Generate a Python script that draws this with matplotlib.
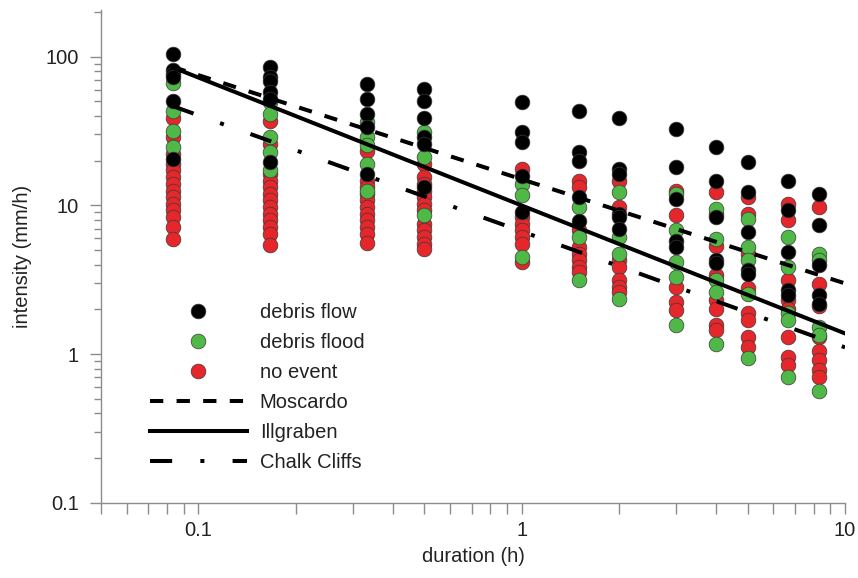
import numpy as np
import matplotlib
matplotlib.use("Agg")
import matplotlib.pyplot as plt
from matplotlib.lines import Line2D
from matplotlib.ticker import LogLocator, FixedLocator, NullFormatter

plt.rcParams['font.family'] = ['Liberation Sans', 'DejaVu Sans']

# durations (h) of the rainfall columns
durations = [0.0833, 0.1667, 0.3333, 0.5, 1, 1.5, 2, 3, 4, 5, 6.667, 8.333]

# debris flow intensities (mm/h) per duration column
flow_I = [
    [105, 81.5, 76.4, 72.6, 50.7, 20.6],
    [84.8, 72.6, 69, 57.6, 52, 19.5],
    [65.6, 52, 41.2, 33.6, 16.3],
    [60.7, 50.7, 39, 28.7, 25.9, 13.3],
    [49.4, 31, 26.6, 15.9, 9.0],
    [43.4, 22.8, 20.0, 11.4, 7.9],
    [39, 17.6, 16.3, 8.8, 8.4, 7.0],
    [32.7, 18.1, 11.1, 5.8, 5.25],
    [24.6, 14.7, 8.35, 4.28, 4.1],
    [19.5, 12.3, 6.6, 3.66, 3.47],
    [14.7, 9.25, 4.86, 2.69, 2.49],
    [12.0, 7.34, 3.96, 2.49, 2.19],
]

# debris flood intensities (mm/h)
flood_I = [
    [67, 43.4, 31.9, 24.6],
    [49.4, 41.2, 28.7, 22.8, 17.2],
    [36.2, 28.7, 25.3, 19.0, 12.6],
    [31, 21.1, 8.57],
    [14.0, 11.7, 4.5],
    [9.74, 6.1, 3.14],
    [12.3, 6.1, 4.73, 2.36],
    [12.0, 6.8, 4.17, 3.3, 1.57],
    [9.5, 5.98, 3.14, 2.62, 1.18],
    [8.14, 5.25, 4.28, 2.55, 0.94],
    [6.1, 3.85, 1.88, 1.69, 0.70],
    [4.73, 4.28, 1.52, 1.34, 0.57],
]

# no-event intensities (mm/h)
none_I = [
    [39, 28.7, 22.2, 19.0, 17.2, 15.5, 14.0, 12.6, 11.4, 10.3, 9.25, 8.35, 7.15, 5.98],
    [37.2, 25.9, 16.3, 14.7, 13.3, 12.0, 10.8, 9.74, 8.8, 7.93, 7.15, 6.46, 5.39],
    [23.4, 14.7, 13.3, 12.0, 10.8, 9.74, 8.8, 7.93, 7.15, 6.46, 5.6],
    [19.0, 15.5, 14.0, 12.6, 11.4, 10.3, 9.25, 7.5, 6.8, 6.1, 5.5, 5.1],
    [17.6, 8.35, 7.5, 6.8, 6.1, 5.5, 4.17],
    [14.7, 13.3, 6.8, 5.25, 4.73, 4.28, 3.85, 3.56],
    [14.7, 9.74, 4.28, 3.85, 3.14, 2.83, 2.62],
    [12.6, 8.57, 2.83, 2.24, 1.97],
    [12.3, 8.8, 5.3, 3.4, 2.30, 2.0, 1.57, 1.45],
    [11.4, 8.8, 4.73, 2.8, 1.88, 1.7, 1.31, 1.12],
    [10.3, 7.93, 3.14, 2.3, 2.0, 1.31, 0.96, 0.84],
    [9.74, 2.98, 2.1, 1.3, 1.05, 0.91, 0.78, 0.70],
]

# ID thresholds I = a * D^b
thr_names = ['Moscardo', 'Illgraben', 'Chalk Cliffs']
thr_a = [15.0, 10.0, 6.7]
thr_b = [-0.70, -0.86, -0.78]
thr_range = (0.0833, 10.0)

RED = '#e5262b'
GREEN = '#4fb847'
BLACK = '#000000'
TXT = '#222222'
AX = '#8c8c8c'

fig = plt.figure(figsize=(8.58, 5.78), dpi=100)
ax = fig.add_axes([101/858, 1-503/578, 744/858, 493/578])

ms_pt = 10.6
def col_xy(vals):
    xs, ys = [], []
    for d, v in zip(durations, vals):
        xs += [d]*len(v)
        ys += v
    return xs, ys

for vals, c, z in [(none_I, RED, 3), (flood_I, GREEN, 4), (flow_I, BLACK, 5)]:
    xs, ys = col_xy(vals)
    ax.scatter(xs, ys, s=ms_pt**2, c=c, edgecolors='#3a3a3a', linewidths=0.5, zorder=z)

D = np.logspace(np.log10(thr_range[0]), np.log10(thr_range[1]), 200)
styles = [(0, (3.3, 3.3)), '-', (0, (5.5, 7, 1, 7))]
lw = 2.9
for name, a, b, ls in zip(thr_names, thr_a, thr_b, styles):
    ax.plot(D, a*D**b, color='black', lw=lw, ls=ls, zorder=6)

ax.set_xscale('log')
ax.set_yscale('log')
ax.set_xlim(0.05, 10)
ax.set_ylim(0.1, 206)

ax.xaxis.set_major_locator(FixedLocator([0.1, 1, 10]))
ax.xaxis.set_minor_locator(LogLocator(base=10, subs=np.arange(2, 10)))
ax.yaxis.set_major_locator(FixedLocator([0.1, 1, 10, 100]))
ax.yaxis.set_minor_locator(LogLocator(base=10, subs=np.arange(2, 10)))
ax.xaxis.set_minor_formatter(NullFormatter())
ax.yaxis.set_minor_formatter(NullFormatter())
ax.set_xticklabels(['0.1', '1', '10'])
ax.set_yticklabels(['0.1', '1', '10', '100'])

for s in ['top', 'right']:
    ax.spines[s].set_visible(False)
for s in ['left', 'bottom']:
    ax.spines[s].set_color(AX)
    ax.spines[s].set_linewidth(1.0)

ax.tick_params(axis='both', which='both', direction='out', color=AX, width=1.0,
               labelsize=14.5, labelcolor=TXT)
ax.tick_params(axis='x', which='major', length=8, pad=5)
ax.tick_params(axis='x', which='minor', length=8)
ax.tick_params(axis='y', which='major', length=8, pad=8)
ax.tick_params(axis='y', which='minor', length=5)

ax.set_xlabel('duration (h)', fontsize=14.5, color=TXT, labelpad=5)
ax.set_ylabel('intensity (mm/h)', fontsize=14.5, color=TXT, labelpad=10)

handles = [
    Line2D([], [], ls='none', marker='o', ms=ms_pt, mfc=BLACK, mec='#3a3a3a', mew=0.5),
    Line2D([], [], ls='none', marker='o', ms=ms_pt, mfc=GREEN, mec='#3a3a3a', mew=0.5),
    Line2D([], [], ls='none', marker='o', ms=ms_pt, mfc=RED, mec='#3a3a3a', mew=0.5),
]
for ls in styles:
    handles.append(Line2D([], [], color='black', lw=lw, ls=ls))
labels = ['debris flow', 'debris flood', 'no event'] + thr_names
leg = ax.legend(handles, labels, loc='upper left', bbox_to_anchor=(150/858, 1-303/578),
                bbox_transform=fig.transFigure, frameon=False, fontsize=14.5,
                handlelength=4.8, handletextpad=0.65, labelspacing=0.55,
                borderpad=0, borderaxespad=0)
for t in leg.get_texts():
    t.set_color(TXT)

fig.savefig('out.png', dpi=100)
